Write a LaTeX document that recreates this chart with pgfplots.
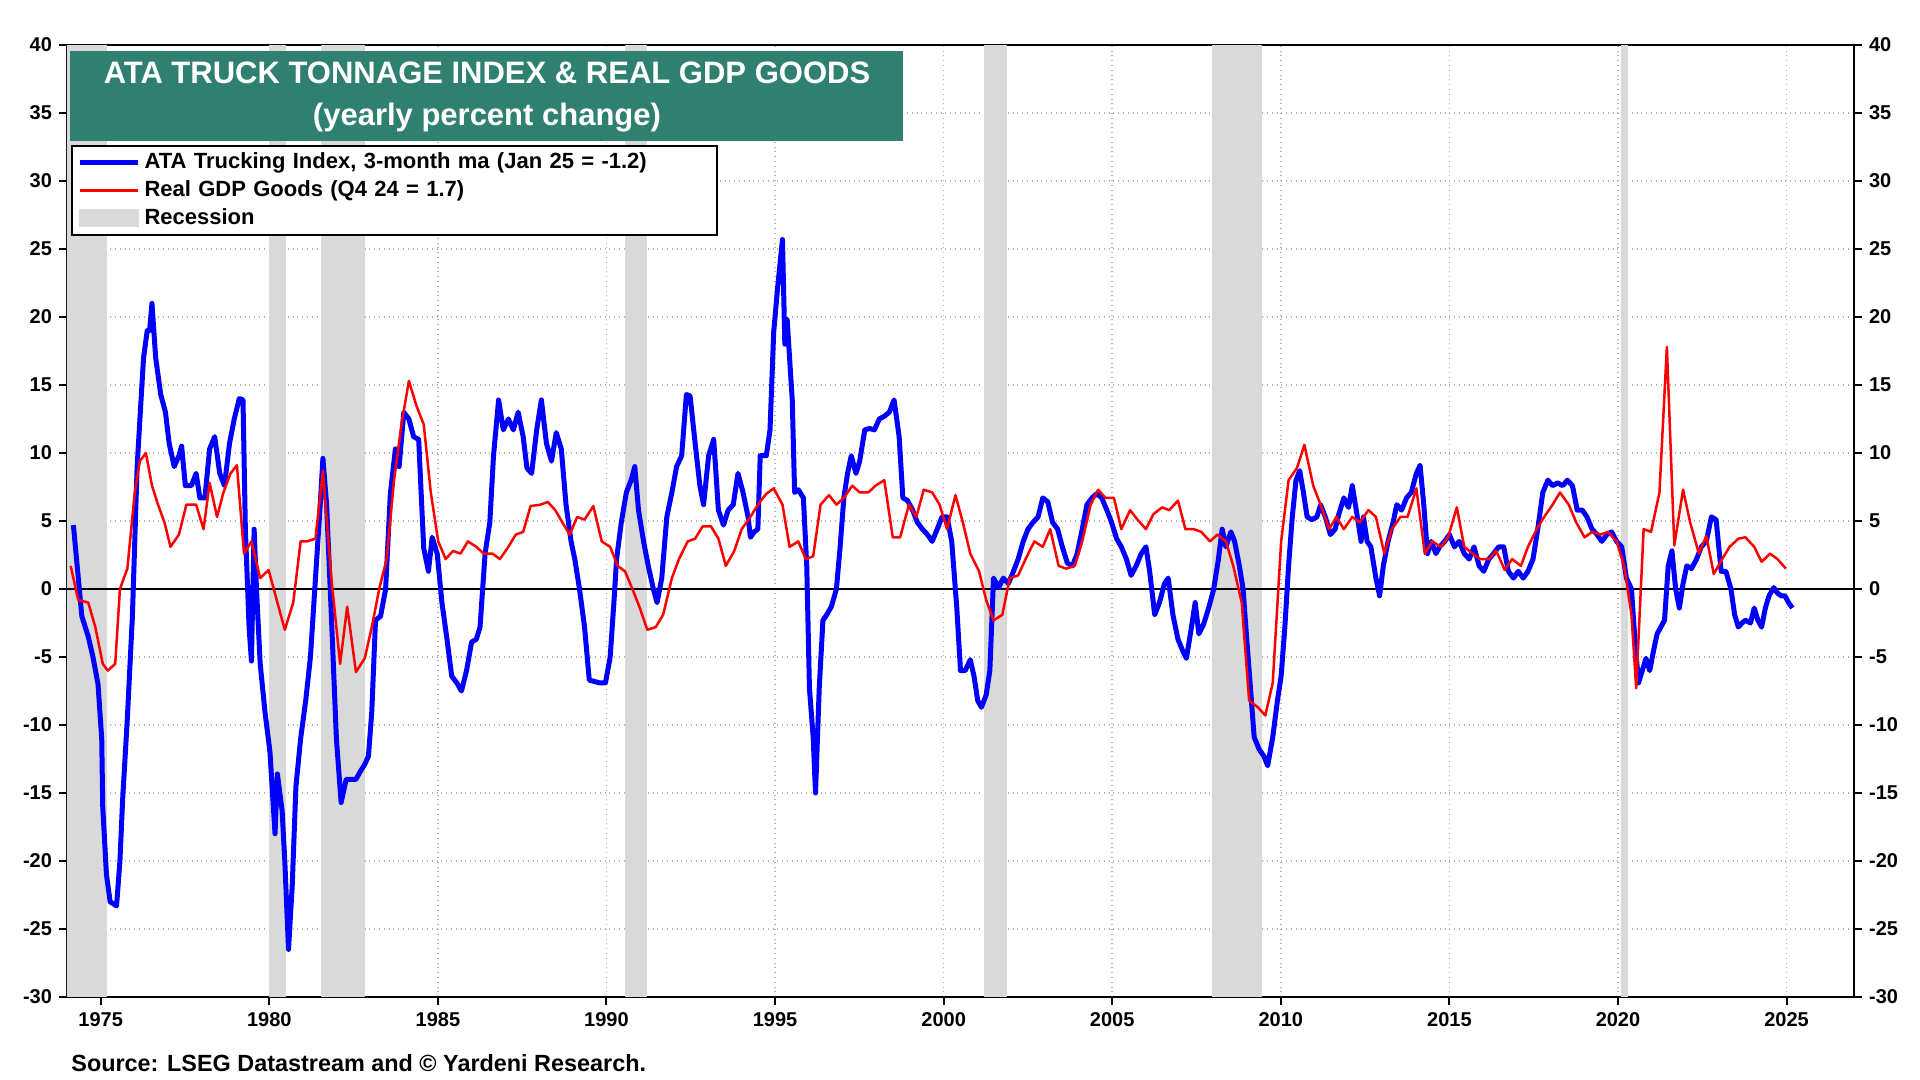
\documentclass[border=0pt]{standalone}
\usepackage{pgfplots}
\pgfplotsset{compat=1.18}
\usepackage{fontspec}
\setmainfont{Liberation Sans}
\definecolor{teal1}{RGB}{47,128,112}
\definecolor{recg}{RGB}{217,217,217}
\begin{document}
\begin{tikzpicture}
\useasboundingbox (-33.5pt,-41.5pt) rectangle (926.5pt,498.5pt);
\begin{axis}[at={(0,0)},anchor=south west,scale only axis,width=893.5pt,height=476pt,
 xmin=1974.0,xmax=2027.0,ymin=-30,ymax=40,
 xtick={1975,1980,...,2025},ytick={-30,-25,...,40},
 grid=major,grid style={gray!60,dotted,line width=0.8pt},
 tick align=outside,axis line style={line width=1.2pt},
 major tick style={black,line width=1pt},major tick length=4pt,
 xticklabel style={font=\bfseries\fontsize{10}{12}\selectfont},
 yticklabel style={font=\bfseries\fontsize{10}{12}\selectfont},
 /pgf/number format/assume math mode=true,
 /pgf/number format/1000 sep={},
 ytick pos=both,xtick pos=bottom,
 legend cell align=left,
 legend style={at={(rel axis cs:0.002,0.895)},anchor=north west,draw=black,line width=1pt,
   font=\bfseries\fontsize{11}{13}\selectfont,row sep=0.5pt,inner xsep=3pt,inner ysep=1.5pt,
   text width=281pt}
]
\addlegendimage{legend image code/.code={\draw[blue,line width=2.5pt] (-2pt,0pt)--(27pt,0pt);}}
\addlegendentry{ATA Trucking Index, 3-month ma (Jan 25 = -1.2)}
\addlegendimage{legend image code/.code={\draw[red,line width=1.25pt] (-2pt,0pt)--(27pt,0pt);}}
\addlegendentry{Real GDP Goods (Q4 24 = 1.7)}
\addlegendimage{legend image code/.code={\fill[recg] (-2pt,-4pt) rectangle (27pt,4pt);}}
\addlegendentry{Recession}
\pgfplotsset{every axis plot/.append style={forget plot}}
\addplot[fill=recg,draw=none] coordinates {(1973.9,-30)(1973.9,40)(1975.2,40)(1975.2,-30)} -- cycle;
\addplot[fill=recg,draw=none] coordinates {(1980.0,-30)(1980.0,40)(1980.5,40)(1980.5,-30)} -- cycle;
\addplot[fill=recg,draw=none] coordinates {(1981.52,-30)(1981.52,40)(1982.85,40)(1982.85,-30)} -- cycle;
\addplot[fill=recg,draw=none] coordinates {(1990.55,-30)(1990.55,40)(1991.2,40)(1991.2,-30)} -- cycle;
\addplot[fill=recg,draw=none] coordinates {(2001.2,-30)(2001.2,40)(2001.87,40)(2001.87,-30)} -- cycle;
\addplot[fill=recg,draw=none] coordinates {(2007.95,-30)(2007.95,40)(2009.45,40)(2009.45,-30)} -- cycle;
\addplot[fill=recg,draw=none] coordinates {(2020.1,-30)(2020.1,40)(2020.3,40)(2020.3,-30)} -- cycle;
\draw[black,line width=0.6pt] (axis cs:1974,0) -- (axis cs:2027,0);
\pgfplotsset{every axis plot/.append style={x filter/.expression={x+0.21}}}
\addplot[blue,line width=2.5pt,line join=round] coordinates {
(1973.98,4.7)(1974.23,-2)(1974.42,-3.5)(1974.56,-5)(1974.71,-7)(1974.82,-11)(1974.85,-16)(1974.96,-21)
(1975.07,-23)(1975.26,-23.3)(1975.36,-20)(1975.44,-15.5)(1975.58,-9.5)(1975.73,-2)(1975.87,9)(1976.06,17)
(1976.17,19)(1976.24,19)(1976.31,21)(1976.42,17)(1976.57,14.3)(1976.71,13)(1976.82,10.7)(1976.97,9)
(1977.11,9.8)(1977.19,10.5)(1977.30,7.6)(1977.48,7.6)(1977.62,8.5)(1977.73,6.7)(1977.88,6.7)(1978.02,10.3)
(1978.17,11.2)(1978.32,8.5)(1978.46,7.6)(1978.61,10.7)(1978.75,12.5)(1978.90,14)(1979.01,13.9)(1979.08,4.4)
(1979.19,-2.8)(1979.26,-5.3)(1979.34,4.4)(1979.41,0)(1979.52,-5.5)(1979.66,-9)(1979.81,-12)(1979.96,-18)
(1980.03,-13.6)(1980.17,-16.3)(1980.25,-20)(1980.36,-26.5)(1980.47,-21.8)(1980.58,-14.5)(1980.72,-11)(1980.87,-8.2)
(1981.01,-5)(1981.16,0.8)(1981.30,6.2)(1981.38,9.6)(1981.49,6.2)(1981.63,-1.9)(1981.78,-11)(1981.92,-15.7)
(1982.07,-14)(1982.36,-14)(1982.47,-13.5)(1982.62,-12.9)(1982.73,-12.3)(1982.83,-9)(1982.94,-2.3)(1983.09,-2)
(1983.24,0)(1983.38,7)(1983.53,10.3)(1983.64,9)(1983.78,13)(1983.93,12.5)(1984.07,11.2)(1984.22,11)
(1984.37,3)(1984.51,1.3)(1984.62,3.8)(1984.77,2.6)(1984.91,-1)(1985.06,-3.7)(1985.20,-6.4)(1985.35,-6.9)
(1985.49,-7.5)(1985.64,-6)(1985.79,-3.9)(1985.93,-3.7)(1986.04,-2.8)(1986.19,2.6)(1986.33,4.9)(1986.44,9.8)
(1986.59,13.9)(1986.73,11.7)(1986.88,12.5)(1987.03,11.7)(1987.17,13)(1987.32,11.2)(1987.43,8.9)(1987.57,8.5)
(1987.72,11.7)(1987.86,13.9)(1988.01,10.7)(1988.16,9.4)(1988.30,11.5)(1988.45,10.3)(1988.59,6.2)(1988.74,3.5)
(1988.85,2.2)(1988.99,0)(1989.14,-2.8)(1989.28,-6.7)(1989.58,-6.9)(1989.76,-6.9)(1989.90,-5)(1990.01,-1)
(1990.09,2.2)(1990.23,4.9)(1990.38,7.1)(1990.52,8)(1990.63,9)(1990.74,5.8)(1990.89,3.5)(1991.03,1.7)
(1991.18,0)(1991.29,-1)(1991.43,0.8)(1991.58,5.3)(1991.73,7.1)(1991.87,9)(1992.02,9.8)(1992.16,14.3)
(1992.27,14.2)(1992.42,10.7)(1992.56,7.6)(1992.67,6.2)(1992.82,9.8)(1992.97,11)(1993.11,5.8)(1993.26,4.7)
(1993.40,5.8)(1993.55,6.2)(1993.69,8.5)(1993.84,7.1)(1993.99,5.3)(1994.06,3.8)(1994.17,4.2)(1994.28,4.4)
(1994.35,9.8)(1994.53,9.8)(1994.64,11.7)(1994.75,18.9)(1994.86,22)(1995.01,25.7)(1995.08,18)(1995.15,19.8)
(1995.22,17)(1995.30,13.9)(1995.37,7.1)(1995.48,7.3)(1995.63,6.7)(1995.73,1.7)(1995.81,-7.3)(1995.92,-10.9)
(1995.99,-15)(1996.10,-7.3)(1996.21,-2.3)(1996.32,-1.9)(1996.46,-1.3)(1996.61,0)(1996.72,3.1)(1996.83,6.7)
(1996.94,8.5)(1997.05,9.8)(1997.19,8.5)(1997.30,9.4)(1997.45,11.7)(1997.59,11.8)(1997.74,11.7)(1997.88,12.5)
(1998.03,12.7)(1998.18,13)(1998.32,13.9)(1998.47,11.2)(1998.58,6.7)(1998.72,6.5)(1998.87,5.8)(1999.01,4.9)
(1999.16,4.4)(1999.31,4)(1999.45,3.5)(1999.60,4.4)(1999.74,5.3)(1999.89,5.3)(2000.03,3.5)(2000.18,-1.4)
(2000.29,-6)(2000.43,-6)(2000.58,-5.2)(2000.69,-6.4)(2000.80,-8.2)(2000.91,-8.7)(2001.05,-7.8)(2001.16,-6)
(2001.27,0.8)(2001.42,0.1)(2001.56,0.8)(2001.71,0.4)(2001.86,1.3)(2002.00,2.2)(2002.15,3.5)(2002.29,4.4)
(2002.44,4.9)(2002.59,5.3)(2002.73,6.7)(2002.88,6.4)(2003.02,4.9)(2003.17,4.4)(2003.31,3.1)(2003.46,1.9)
(2003.61,1.7)(2003.75,2.6)(2003.90,4.4)(2004.04,6.2)(2004.19,6.7)(2004.33,7)(2004.48,6.7)(2004.63,5.8)
(2004.77,4.9)(2004.92,3.7)(2005.06,3.1)(2005.21,2.2)(2005.35,1)(2005.50,1.7)(2005.65,2.6)(2005.79,3.1)
(2005.90,1.3)(2006.05,-1.9)(2006.19,-1)(2006.34,0.4)(2006.45,0.8)(2006.59,-1.9)(2006.74,-3.7)(2006.89,-4.6)
(2006.99,-5.1)(2007.14,-2.8)(2007.25,-1)(2007.36,-3.3)(2007.50,-2.6)(2007.65,-1.4)(2007.80,0)(2007.94,2.2)
(2008.05,4.4)(2008.16,3.1)(2008.31,4.2)(2008.42,3.5)(2008.56,1.7)(2008.67,0)(2008.78,-3.7)(2008.89,-7.3)
(2009.00,-10.9)(2009.15,-11.8)(2009.29,-12.3)(2009.40,-13)(2009.55,-10.9)(2009.69,-8.2)(2009.80,-6.4)(2009.91,-2.8)
(2010.02,1.7)(2010.13,5.3)(2010.24,8)(2010.35,8.7)(2010.46,7.1)(2010.57,5.3)(2010.71,5.1)(2010.86,5.3)
(2010.97,6.2)(2011.11,5.3)(2011.26,4)(2011.40,4.4)(2011.51,5.5)(2011.66,6.7)(2011.80,6)(2011.91,7.6)
(2012.06,5.3)(2012.17,3.5)(2012.24,5.3)(2012.35,3.5)(2012.46,3.1)(2012.61,0.8)(2012.72,-0.5)(2012.83,1.7)
(2012.97,3.5)(2013.12,4.9)(2013.23,6.2)(2013.37,5.8)(2013.52,6.7)(2013.66,7.1)(2013.81,8.5)(2013.92,9.1)
(2014.03,6.2)(2014.14,2.6)(2014.25,3.5)(2014.39,2.6)(2014.50,3.1)(2014.65,3.5)(2014.79,4)(2014.94,3.1)
(2015.08,3.5)(2015.23,2.6)(2015.38,2.2)(2015.52,3.1)(2015.67,1.7)(2015.81,1.3)(2015.96,2.2)(2016.10,2.6)
(2016.25,3.1)(2016.40,3.1)(2016.54,1.3)(2016.69,0.8)(2016.83,1.3)(2016.98,0.8)(2017.12,1.3)(2017.27,2.2)
(2017.41,4.4)(2017.56,7.1)(2017.71,8)(2017.85,7.6)(2018.00,7.8)(2018.15,7.6)(2018.29,8)(2018.44,7.6)
(2018.58,5.8)(2018.73,5.8)(2018.87,5.3)(2019.02,4.4)(2019.17,4)(2019.31,3.5)(2019.46,4)(2019.60,4.2)
(2019.75,3.5)(2019.90,3.1)(2020.04,0.8)(2020.19,0)(2020.29,-3.7)(2020.40,-6.9)(2020.51,-6)(2020.62,-5.1)
(2020.73,-6)(2020.84,-4.6)(2020.95,-3.3)(2021.06,-2.8)(2021.17,-2.3)(2021.28,1.7)(2021.39,2.8)(2021.50,0)
(2021.61,-1.4)(2021.72,0.4)(2021.83,1.7)(2021.97,1.5)(2022.12,2.2)(2022.26,3.1)(2022.41,3.5)(2022.56,5.3)
(2022.70,5.1)(2022.85,1.3)(2022.99,1.3)(2023.14,0)(2023.25,-1.9)(2023.36,-2.8)(2023.47,-2.5)(2023.57,-2.3)
(2023.72,-2.5)(2023.83,-1.4)(2023.94,-2.3)(2024.05,-2.8)(2024.16,-1.4)(2024.27,-0.5)(2024.41,0.1)(2024.52,-0.3)
(2024.63,-0.5)(2024.74,-0.5)(2024.85,-1)(2024.96,-1.4)};
\addplot[red,line width=1.25pt,line join=round] coordinates {
(1973.9,1.7)(1974.12,-0.8)(1974.42,-1)(1974.63,-2.8)(1974.85,-5.5)(1975.0,-6)(1975.22,-5.5)(1975.36,0)
(1975.58,1.5)(1975.8,7.1)(1975.95,9.4)(1976.13,10)(1976.31,7.6)(1976.49,6.2)(1976.68,4.9)(1976.86,3.1)
(1977.11,4)(1977.33,6.2)(1977.62,6.2)(1977.84,4.4)(1978.02,7.8)(1978.24,5.3)(1978.43,7.1)(1978.64,8.5)
(1978.83,9.1)(1979.04,2.6)(1979.26,3.5)(1979.52,0.8)(1979.77,1.4)(1980.03,-1)(1980.25,-3)(1980.5,-1)
(1980.72,3.5)(1980.9,3.5)(1981.16,3.7)(1981.38,8.7)(1981.63,0.8)(1981.89,-5.5)(1982.1,-1.3)(1982.36,-6.1)
(1982.62,-5.1)(1982.83,-2.8)(1983.05,0)(1983.27,2.2)(1983.49,8)(1983.71,12.1)(1983.93,15.3)(1984.15,13.5)
(1984.37,12.1)(1984.58,7.1)(1984.8,3.5)(1985.02,2.2)(1985.24,2.8)(1985.46,2.6)(1985.68,3.5)(1985.93,3.1)
(1986.15,2.6)(1986.41,2.6)(1986.63,2.2)(1986.88,3.1)(1987.1,4)(1987.32,4.2)(1987.54,6.1)(1987.83,6.2)
(1988.05,6.4)(1988.27,5.8)(1988.48,4.9)(1988.7,4)(1988.92,5.3)(1989.14,5.1)(1989.4,6.1)(1989.65,3.5)
(1989.9,3.1)(1990.12,1.7)(1990.34,1.3)(1990.56,0)(1990.78,-1.4)(1991.0,-3)(1991.25,-2.8)(1991.47,-1.9)
(1991.73,0.8)(1991.94,2.2)(1992.2,3.5)(1992.42,3.7)(1992.64,4.6)(1992.89,4.6)(1993.11,3.7)(1993.33,1.7)
(1993.58,2.8)(1993.8,4.4)(1994.06,5.3)(1994.28,6.2)(1994.53,7)(1994.75,7.4)(1995.01,6.2)(1995.22,3.1)
(1995.48,3.5)(1995.7,2.2)(1995.92,2.4)(1996.14,6.2)(1996.39,6.9)(1996.61,6.2)(1996.83,6.7)(1997.08,7.6)
(1997.30,7.1)(1997.56,7.1)(1997.77,7.6)(1998.03,8)(1998.28,3.8)(1998.5,3.8)(1998.76,6.2)(1998.98,5.3)
(1999.2,7.3)(1999.45,7.1)(1999.67,6.2)(1999.89,4.4)(2000.14,6.9)(2000.36,4.9)(2000.58,2.6)(2000.84,1.3)
(2001.05,-0.8)(2001.27,-2.3)(2001.53,-1.9)(2001.75,0.8)(2002.0,1)(2002.22,2.2)(2002.48,3.5)(2002.73,3.1)
(2002.95,4.4)(2003.2,1.7)(2003.42,1.5)(2003.68,1.7)(2003.9,3.5)(2004.15,6.2)(2004.37,7.3)(2004.59,6.7)
(2004.84,6.7)(2005.06,4.4)(2005.32,5.8)(2005.54,5.1)(2005.79,4.4)(2006.01,5.5)(2006.27,6)(2006.48,5.8)
(2006.74,6.5)(2006.96,4.4)(2007.21,4.4)(2007.43,4.2)(2007.69,3.5)(2007.91,4)(2008.16,3.5)(2008.38,1.7)
(2008.63,-1)(2008.85,-8.2)(2009.11,-8.7)(2009.33,-9.3)(2009.55,-6.9)(2009.8,3.5)(2010.02,8)(2010.27,8.9)
(2010.49,10.6)(2010.75,7.6)(2010.97,6.2)(2011.22,4.4)(2011.44,5.3)(2011.66,4.4)(2011.91,5.3)(2012.13,4.9)
(2012.39,5.8)(2012.61,5.3)(2012.86,2.6)(2013.08,4.4)(2013.34,5.3)(2013.55,5.3)(2013.81,7.4)(2014.06,2.6)
(2014.28,3.5)(2014.54,3.1)(2014.75,3.8)(2015.01,6)(2015.23,3.1)(2015.48,2.6)(2015.7,2.2)(2015.96,2.2)
(2016.18,2.8)(2016.43,1.4)(2016.65,2.2)(2016.91,1.7)(2017.12,3.1)(2017.38,4.4)(2017.6,5.3)(2017.85,6.2)
(2018.07,7.1)(2018.33,6.2)(2018.55,4.9)(2018.8,3.8)(2019.02,4.2)(2019.27,4)(2019.49,4.2)(2019.75,3.5)
(2019.97,1.7)(2020.19,-1.9)(2020.33,-7.3)(2020.55,4.4)(2020.77,4.2)(2021.02,7.1)(2021.24,17.8)(2021.46,3.2)
(2021.72,7.3)(2021.93,4.9)(2022.19,2.6)(2022.41,3.9)(2022.63,1.1)(2022.88,2.2)(2023.1,3.1)(2023.36,3.7)
(2023.57,3.8)(2023.83,3.1)(2024.05,2)(2024.3,2.6)(2024.52,2.2)(2024.77,1.5)};
\end{axis}
\begin{axis}[at={(0,0)},anchor=south west,scale only axis,width=893.5pt,height=476pt,
 xmin=1974,xmax=2027,ymin=-30,ymax=40,ytick={-30,-25,...,40},
 axis x line=none,axis y line*=right,yticklabel pos=right,tick align=outside,
 axis line style={line width=1.2pt},major tick style={black,line width=1pt},major tick length=4pt,
 yticklabel style={font=\bfseries\fontsize{10}{12}\selectfont},
 /pgf/number format/assume math mode=true]
\end{axis}
\fill[teal1] (1.5pt,473pt) rectangle (418pt,428pt);
\node[white,font=\bfseries\fontsize{15.5}{21}\selectfont,align=center] at (210pt,450pt) {ATA TRUCK TONNAGE INDEX \& REAL GDP GOODS\\(yearly percent change)};
\node[anchor=west,font=\bfseries\fontsize{11.7}{13}\selectfont,inner xsep=0pt] at (2pt,-33pt) {Source: LSEG Datastream and © Yardeni Research.};
\end{tikzpicture}
\end{document}
